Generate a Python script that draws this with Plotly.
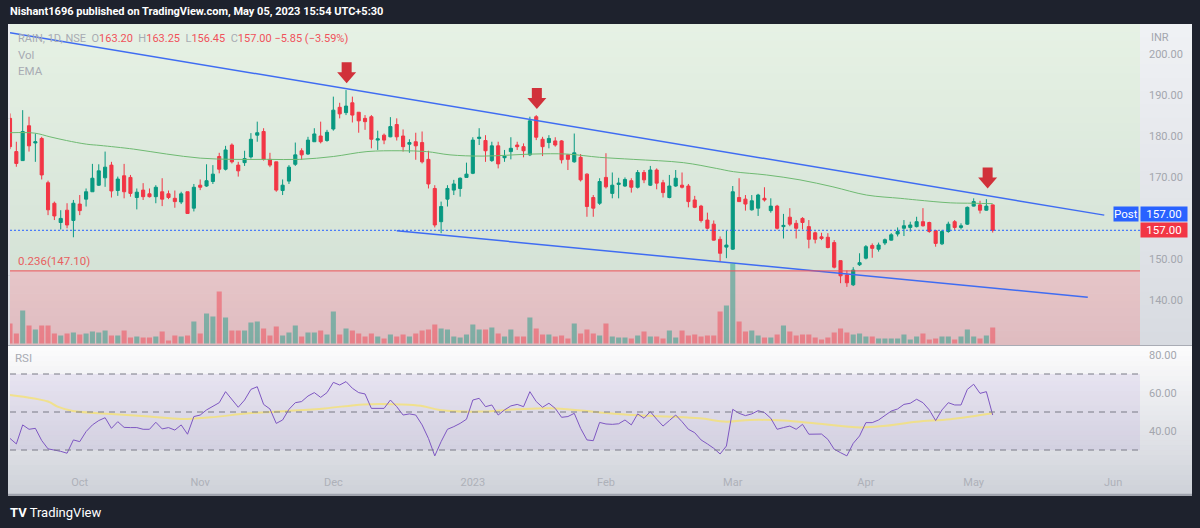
import plotly.graph_objects as go

W, H = 1200, 528

# ---------------- data ----------------
TICK_IDX = [11, 30, 51, 73, 94, 114, 135, 152, 174]
TICK_TXT = ["Oct", "Nov", "Dec", "2023", "Feb", "Mar", "Apr", "May", "Jun"]

OPEN = [184.3, 176.2, 174.0, 182.5, 178.3, 179.4, 168.6, 163.6, 158.9, 161.9,
        159.4, 163.4, 164.6, 166.4, 168.0, 169.8, 172.9, 166.7, 170.3, 169.9,
        165.0, 166.8, 165.9, 165.2, 166.4, 165.9, 164.8, 163.9, 166.4, 162.4,
        168.0, 167.8, 168.9, 175.0, 171.9, 177.8, 172.9, 173.5, 174.9, 180.2,
        181.1, 174.3, 173.7, 166.7, 169.0, 173.1, 176.4, 175.6, 178.6, 180.0,
        178.9, 181.7, 187.0, 185.7, 188.1, 185.8, 184.3, 184.7, 179.0, 180.2,
        179.8, 182.8, 180.0, 178.0, 178.6, 178.4, 174.3, 167.2, 159.1, 164.6,
        166.8, 167.2, 169.9, 170.9, 179.4, 178.9, 174.0, 177.6, 174.7, 176.2,
        177.8, 177.4, 175.4, 184.7, 179.2, 178.4, 178.8, 178.8, 175.4, 173.7,
        174.8, 170.7, 165.0, 163.6, 169.9, 166.0, 168.2, 167.8, 169.1, 167.5,
        171.1, 168.0, 171.7, 168.6, 165.0, 167.8, 168.0, 167.8, 164.4, 162.9,
        159.5, 158.5, 154.8, 152.9, 152.4, 165.0, 164.6, 162.0, 162.4, 164.8,
        161.8, 162.9, 157.9, 160.2, 158.7, 159.9, 157.9, 156.4, 155.4, 155.3,
        154.0, 149.6, 146.1, 143.7, 148.6, 150.2, 153.3, 152.4, 153.9, 154.6,
        156.1, 157.5, 157.7, 157.9, 159.1, 158.9, 156.9, 153.7, 156.7, 159.1,
        157.7, 158.5, 162.9, 163.2, 161.9, 163.20]
HIGH = [185.5, 178.6, 186.3, 184.7, 180.6, 179.8, 169.1, 164.0, 161.9, 163.6,
        164.4, 165.6, 167.2, 173.2, 173.1, 176.2, 173.7, 170.1, 173.2, 170.5,
        167.2, 168.5, 167.2, 168.0, 169.7, 166.7, 166.7, 166.4, 166.4, 168.3,
        169.4, 173.1, 172.9, 175.9, 177.6, 178.2, 173.7, 176.4, 180.7, 183.5,
        181.9, 175.9, 173.7, 169.4, 172.9, 178.4, 177.0, 179.8, 181.9, 183.5,
        181.5, 189.6, 188.1, 191.2, 189.6, 185.8, 185.1, 185.1, 181.3, 180.6,
        184.6, 184.3, 181.6, 179.2, 180.8, 181.1, 176.4, 168.0, 164.0, 168.0,
        169.3, 169.9, 173.5, 179.7, 181.9, 180.2, 178.6, 178.6, 176.6, 179.7,
        178.6, 178.2, 184.7, 185.1, 179.8, 180.2, 179.7, 179.0, 175.4, 180.6,
        175.6, 170.9, 165.6, 169.7, 175.8, 171.1, 169.8, 169.9, 169.7, 171.7,
        171.7, 172.7, 172.1, 169.3, 170.5, 171.7, 171.1, 168.3, 165.4, 163.2,
        161.3, 159.4, 155.5, 156.9, 167.8, 169.7, 165.6, 165.6, 165.9, 167.5,
        164.8, 163.2, 161.0, 162.4, 159.5, 160.2, 159.5, 156.7, 156.4, 156.3,
        154.6, 149.6, 147.2, 148.0, 151.4, 153.4, 153.8, 154.0, 155.0, 156.3,
        157.7, 159.5, 159.1, 160.3, 162.4, 159.1, 157.1, 157.1, 159.1, 159.5,
        158.7, 162.8, 164.8, 164.2, 164.6, 163.25]
LOW = [176.8, 172.5, 173.9, 176.2, 173.7, 169.4, 160.7, 159.5, 157.2, 157.5,
       155.3, 160.7, 162.8, 166.4, 167.8, 167.6, 165.0, 165.4, 164.8, 165.2,
       162.1, 164.4, 165.0, 163.6, 162.9, 164.6, 162.5, 163.4, 161.0, 161.6,
       166.8, 167.6, 168.3, 170.9, 171.6, 173.3, 170.1, 172.7, 174.5, 178.6,
       174.0, 172.4, 166.4, 165.6, 168.3, 172.7, 174.2, 175.4, 178.6, 178.2,
       178.6, 181.3, 184.3, 185.1, 183.3, 180.8, 181.5, 177.0, 176.6, 178.0,
       179.7, 178.9, 176.2, 175.9, 174.2, 173.3, 167.2, 157.7, 156.3, 162.8,
       165.6, 165.2, 169.9, 170.7, 177.8, 173.7, 173.7, 172.1, 173.7, 174.3,
       176.6, 174.8, 175.1, 179.0, 175.1, 177.0, 177.4, 173.3, 171.7, 173.5,
       168.9, 160.3, 160.3, 163.2, 167.2, 164.8, 164.8, 167.6, 166.2, 167.2,
       168.5, 167.8, 167.0, 165.0, 164.8, 167.6, 167.2, 162.6, 162.4, 158.9,
       157.2, 154.5, 149.4, 150.2, 152.2, 164.0, 161.8, 161.8, 160.5, 164.0,
       161.3, 157.2, 155.0, 158.0, 155.0, 157.2, 152.6, 153.8, 154.6, 152.6,
       147.7, 144.1, 143.2, 143.4, 148.3, 149.9, 150.3, 151.8, 153.4, 154.5,
       155.5, 155.6, 156.7, 157.7, 157.9, 156.4, 153.0, 153.4, 156.4, 157.1,
       157.2, 158.3, 162.8, 161.1, 161.8, 156.45]
CLOSE = [177.4, 173.3, 181.1, 177.6, 178.6, 170.5, 162.0, 160.5, 159.9, 158.3,
         163.6, 161.8, 166.4, 169.7, 171.5, 172.4, 166.6, 169.5, 166.4, 166.0,
         166.3, 165.2, 165.2, 167.5, 164.6, 165.0, 164.0, 165.9, 161.1, 167.5,
         167.5, 169.1, 170.7, 171.9, 176.6, 173.7, 171.5, 174.5, 179.2, 180.8,
         174.3, 172.9, 166.8, 168.0, 172.4, 175.4, 175.4, 179.0, 180.5, 178.6,
         180.9, 186.3, 185.4, 187.3, 185.1, 183.7, 183.5, 179.2, 179.3, 179.0,
         182.3, 179.8, 177.4, 178.4, 177.6, 173.7, 168.3, 158.3, 162.8, 167.2,
         168.3, 169.7, 170.7, 179.0, 179.7, 176.4, 177.6, 173.2, 175.1, 177.0,
         177.4, 176.4, 183.7, 179.7, 177.4, 179.4, 177.8, 174.2, 174.3, 175.9,
         169.3, 162.8, 162.4, 168.9, 167.6, 168.0, 168.5, 169.4, 167.5, 171.1,
         169.3, 171.7, 168.5, 166.2, 167.8, 169.7, 167.5, 164.0, 162.6, 159.4,
         157.5, 154.6, 151.4, 153.4, 166.4, 164.0, 163.4, 164.2, 165.6, 164.4,
         162.9, 157.5, 158.2, 158.5, 157.5, 158.9, 154.8, 154.8, 155.0, 152.8,
         148.0, 145.9, 144.2, 147.3, 149.1, 153.0, 152.6, 153.4, 154.7, 155.9,
         156.7, 158.1, 158.3, 159.1, 158.1, 156.7, 153.8, 156.7, 158.5, 157.7,
         158.1, 162.6, 164.0, 161.9, 162.9, 157.00]
VOLUME = [2.0, 1.0, 3.3, 1.8, 1.4, 1.8, 1.8, 1.0, 0.8, 1.0,
          1.1, 0.9, 1.0, 1.2, 1.1, 1.3, 0.8, 0.8, 1.3, 0.6,
          0.7, 0.6, 0.6, 0.7, 1.2, 0.3, 0.8, 0.7, 0.8, 2.2,
          1.0, 3.0, 2.7, 5.2, 2.6, 1.3, 1.3, 1.3, 2.1, 2.2,
          1.5, 0.8, 1.7, 0.8, 1.1, 1.8, 0.7, 1.1, 1.1, 1.3,
          0.9, 3.2, 0.9, 1.5, 1.3, 1.0, 0.7, 1.0, 0.7, 0.5,
          0.9, 0.7, 0.9, 0.7, 1.0, 1.3, 1.4, 1.9, 1.5, 1.4,
          0.7, 0.6, 0.9, 1.9, 1.4, 1.4, 1.6, 1.0, 0.7, 1.4,
          0.7, 0.7, 2.6, 1.5, 0.9, 0.9, 0.7, 0.8, 0.5, 2.0,
          1.0, 1.4, 1.0, 0.8, 2.0, 0.7, 0.6, 0.6, 0.5, 0.8,
          1.2, 0.7, 0.7, 0.5, 1.3, 0.6, 1.3, 0.8, 0.9, 0.7,
          0.8, 0.8, 3.2, 3.8, 8.0, 2.2, 1.2, 1.3, 0.8, 0.6,
          0.6, 0.9, 1.8, 1.2, 0.8, 0.9, 0.9, 0.6, 0.4, 0.6,
          1.1, 1.5, 1.1, 0.9, 1.0, 0.7, 0.7, 0.5, 0.5, 0.5,
          0.5, 0.9, 0.4, 0.7, 1.0, 0.4, 0.5, 0.7, 0.7, 0.4,
          0.7, 1.4, 0.7, 0.5, 0.8, 1.6]
RSI = [36.1, 33.2, 43.2, 40.9, 41.4, 35.0, 30.6, 30.0, 29.3, 28.3,
       35.3, 34.4, 39.7, 43.2, 45.5, 47.0, 41.4, 44.9, 41.9, 41.8,
       41.8, 40.9, 40.9, 44.6, 41.1, 41.8, 40.5, 43.2, 38.3, 47.6,
       48.4, 51.1, 53.2, 54.9, 60.7, 56.3, 52.5, 56.3, 61.9, 63.3,
       54.0, 51.6, 44.0, 45.8, 51.4, 54.9, 55.5, 58.4, 60.2, 57.7,
       60.2, 65.6, 64.2, 66.0, 62.5, 60.2, 59.5, 51.9, 51.9, 51.9,
       56.3, 52.8, 48.4, 49.0, 48.4, 43.2, 36.1, 26.9, 34.4, 40.9,
       42.3, 44.0, 46.2, 56.3, 57.2, 52.8, 53.7, 48.4, 51.1, 53.2,
       54.0, 52.8, 60.7, 55.5, 52.5, 54.6, 51.9, 47.2, 47.6, 49.3,
       41.4, 35.3, 34.9, 44.5, 43.7, 43.5, 43.8, 45.8, 43.2, 49.0,
       46.7, 50.2, 46.2, 42.6, 45.5, 48.4, 44.9, 40.9, 39.1, 35.3,
       33.2, 30.9, 27.9, 32.1, 51.4, 49.3, 48.1, 49.0, 50.7, 49.7,
       46.7, 40.9, 41.8, 42.6, 40.9, 43.5, 38.3, 38.4, 38.4, 35.6,
       30.4, 28.6, 26.9, 33.5, 37.4, 44.4, 44.4, 45.8, 48.4, 50.5,
       51.6, 54.0, 54.6, 56.7, 54.9, 51.1, 45.5, 51.1, 54.9, 53.7,
       53.7, 61.9, 64.6, 59.8, 60.7, 48.4]
EMA_X = [0, 3.9, 6.3, 8.9, 12.1, 14.2, 19.5, 24.7, 30, 35.2, 40.5, 45.7, 51,
         56.3, 61.5, 65.7, 69.4, 74.6, 82.5, 87.8, 93, 98.3, 106.2, 111.4,
         114.1, 119.3, 124.6, 129.8, 135.1, 140.4, 143, 148.3, 151.9, 155]
EMA_Y = [180.8, 180.7, 179.8, 178.9, 178.0, 177.7, 176.8, 175.6, 174.6, 174.3,
         174.3, 174.3, 175.0, 176.2, 176.4, 176.2, 175.4, 175.1, 175.6, 175.6,
         174.8, 174.3, 173.5, 172.1, 171.3, 170.5, 169.3, 167.6, 165.6, 164.8,
         164.4, 163.7, 163.6, 163.5]
RSIMA_X = [0, 6.0, 7.5, 9.9, 16, 22, 27, 31.6, 37.7, 43.7, 49.7, 55.8, 61.8,
           64.8, 67.8, 73.9, 79.9, 86, 93, 98.3, 103.6, 108.8, 113, 116.7, 122,
           127.2, 134.1, 137.7, 143, 148.3, 155]
RSIMA_Y = [59.0, 55.5, 52.8, 50.5, 49.0, 47.6, 46.3, 47.2, 49.3, 50.5, 51.9,
           54.0, 54.0, 53.3, 51.1, 50.2, 51.4, 51.9, 49.8, 48.4, 47.6, 46.7,
           44.9, 45.8, 45.5, 44.0, 41.9, 42.6, 44.9, 46.2, 49.3]
UPPER_X, UPPER_Y = [0, 172.6], [205.2, 160.7]
LOWER_X, LOWER_Y = [61, 170], [156.9, 140.7]
FIB_LEVEL = 147.10
LAST_PRICE = 157.00
ARROW_X = [53.1, 83.1, 154.2]
ARROW_Y = [192.85, 186.6, 167.2]
# 160.00 is hidden behind the price labels in the reference
PRICE_TICKS = [140, 150, 170, 180, 190, 200]
RSI_TICKS = [40, 60, 80]
RSI_BANDS = [30, 50, 70]

# ---------------- layout geometry ----------------
PL, PR = 10, 1140          # plot area x (px)
MT, MB = 24, 345           # main pane y (px)
RT, RB = 346, 465          # rsi pane y (px)
FB = 495                   # frame bottom
BAR_PX = 6.34


def fx(px):
    return px / W


def fy(py):
    return 1 - py / H


P_TOP = 200 + (54 - MT) / 4.1
P_BOT = 200 - (MB - 54) / 4.1
R_TOP = 80 + (355 - RT) * 20 / 38
R_BOT = 80 - (RB - 355) * 20 / 38
X_MAX = (PR - PL) / BAR_PX

UP, DN = "#089981", "#f23645"
FONT = "Roboto"

fig = go.Figure()
shapes = []


def hexrgb(c):
    c = c.lstrip("#")
    return tuple(int(c[i:i + 2], 16) for i in (0, 2, 4))


def grad(x0, x1, y0, y1, c0, c1, n=24):
    a, b = hexrgb(c0), hexrgb(c1)
    step = (y1 - y0) / n
    for i in range(n):
        t = i / (n - 1)
        col = "rgb(%d,%d,%d)" % tuple(round(a[k] + (b[k] - a[k]) * t) for k in range(3))
        shapes.append(dict(type="rect", xref="paper", yref="paper", layer="below",
                           x0=fx(x0), x1=fx(x1), y0=fy(y0 + i * step), y1=fy(y0 + (i + 1) * step + 0.6),
                           line=dict(width=0), fillcolor=col))


# backgrounds
grad(8, 1192, MT, FB, "#eceef2", "#cfd2d9", 30)
grad(PL, PR, MT, 271, "#e6f1e4", "#d5e3d7", 30)
grad(PL, PR, 271, MB, "#e6c5c8", "#dfbcc0", 10)
grad(PR, 1192, MT, MB, "#eff1f4", "#d8dbe1", 24)
grad(8, 1192, RT, RB, "#fbfbfc", "#d9dbe1", 24)
grad(8, 1192, RB, FB, "#d6d9df", "#cfd2d9", 6)

# rsi band fill
shapes.append(dict(type="rect", xref="paper", yref="y3", layer="below",
                   x0=fx(PL), x1=fx(PR), y0=RSI_BANDS[0], y1=RSI_BANDS[2],
                   line=dict(width=0), fillcolor="rgba(126,87,194,0.10)"))
for b in RSI_BANDS:
    shapes.append(dict(type="line", xref="paper", yref="y3", layer="above",
                       x0=fx(PL), x1=fx(PR), y0=b, y1=b,
                       line=dict(color="#787b86", width=1, dash="6px,5px")))
# pane separator and frame bottom line
shapes.append(dict(type="line", xref="paper", yref="paper", x0=fx(8), x1=fx(1192),
                   y0=fy(345.5), y1=fy(345.5), line=dict(color="#a9acb5", width=1)))
shapes.append(dict(type="line", xref="paper", yref="paper", x0=fx(8), x1=fx(1192),
                   y0=fy(494.5), y1=fy(494.5), line=dict(color="#9ea2ad", width=1.5)))
# fib level line and last price dotted line
shapes.append(dict(type="line", xref="paper", yref="y", x0=fx(PL), x1=fx(PR),
                   y0=FIB_LEVEL, y1=FIB_LEVEL, line=dict(color="#ee4f55", width=1)))
shapes.append(dict(type="line", xref="paper", yref="y", x0=fx(PL), x1=fx(PR),
                   y0=LAST_PRICE, y1=LAST_PRICE, line=dict(color="#2962ff", width=1, dash="2px,2px")))
# arrows (pixel-sized path anchored on data points)
for ax_, ay_ in zip(ARROW_X, ARROW_Y):
    shapes.append(dict(type="path", xref="x", yref="y", xsizemode="pixel", ysizemode="pixel",
                       xanchor=ax_, yanchor=ay_,
                       path="M 0,0 L 9.5,11 L 5,11 L 5,21 L -5,21 L -5,11 L -9.5,11 Z",
                       fillcolor="#d1313a", line=dict(width=0)))

idx = list(range(len(CLOSE)))
vcol = ["rgba(8,153,129,0.45)" if c >= o else "rgba(242,54,69,0.45)" for o, c in zip(OPEN, CLOSE)]

fig.add_trace(go.Bar(x=idx, y=VOLUME, marker=dict(color=vcol, line=dict(width=0)), width=0.8,
                     yaxis="y2", xaxis="x", hoverinfo="skip"))
fig.add_trace(go.Scatter(x=EMA_X, y=EMA_Y, mode="lines", line=dict(color="#6fba72", width=1, shape="spline"),
                         yaxis="y", xaxis="x", hoverinfo="skip"))
fig.add_trace(go.Candlestick(x=idx, open=OPEN, high=HIGH, low=LOW, close=CLOSE,
                             increasing=dict(line=dict(color=UP, width=1), fillcolor=UP),
                             decreasing=dict(line=dict(color=DN, width=1), fillcolor=DN),
                             whiskerwidth=0, yaxis="y", xaxis="x", hoverinfo="skip"))
fig.add_trace(go.Scatter(x=UPPER_X, y=UPPER_Y, mode="lines", line=dict(color="#3f6cf2", width=1.5),
                         yaxis="y", xaxis="x", hoverinfo="skip"))
fig.add_trace(go.Scatter(x=LOWER_X, y=LOWER_Y, mode="lines", line=dict(color="#3f6cf2", width=1.5),
                         yaxis="y", xaxis="x", hoverinfo="skip"))
fig.add_trace(go.Scatter(x=RSIMA_X, y=RSIMA_Y, mode="lines",
                         line=dict(color="rgba(246,226,110,0.75)", width=2, shape="spline"),
                         yaxis="y3", xaxis="x", hoverinfo="skip"))
fig.add_trace(go.Scatter(x=idx, y=RSI, mode="lines", line=dict(color="#7e57c2", width=1),
                         yaxis="y3", xaxis="x", hoverinfo="skip"))

ann = []


def text(x, y, s, size=12, color="#a3a6ae", xanchor="left", **kw):
    ann.append(dict(xref="paper", yref="paper", x=fx(x), y=fy(y), text=s, showarrow=False,
                    xanchor=xanchor, yanchor="middle", font=dict(family=FONT, size=size, color=color), **kw))


text(8, 12, "<b>Nishant1696 published on TradingView.com, May 05, 2023 15:54 UTC+5:30</b>", 11, "#ffffff")
g, r = "#a8abb3", "#f0525b"
hdr = ("<span style='color:%s'>RAIN, 1D, NSE&nbsp; O</span><span style='color:%s'>163.20</span>"
       "<span style='color:%s'>&nbsp; H</span><span style='color:%s'>163.25</span>"
       "<span style='color:%s'>&nbsp; L</span><span style='color:%s'>156.45</span>"
       "<span style='color:%s'>&nbsp; C</span><span style='color:%s'>157.00 −5.85 (−3.59%%)</span>"
       % (g, r, g, r, g, r, g, r))
text(16, 39, hdr, 11)
text(16, 55, "Vol", 11.5, g)
text(16, 71, "EMA", 11.5, g)
text(16, 261, "0.236(147.10)", 11.5, "#e8605f")
text(13, 358, "RSI", 11.5, g)
text(1149, 37, "INR", 11, "#a3a6ae")
text(8, 512, "<b>TV</b> TradingView", 13, "#ffffff")

# price labels
ann.append(dict(xref="paper", yref="y", x=fx(1139), y=LAST_PRICE, yshift=16.5, text="Post", showarrow=False,
                xanchor="right", yanchor="middle", bgcolor="#2962ff", borderpad=0, height=14,
                font=dict(family=FONT, size=11.5, color="#ffffff")))
ann.append(dict(xref="paper", yref="y", x=fx(1140), y=LAST_PRICE, yshift=16.5, text="157.00", showarrow=False,
                xanchor="left", yanchor="middle", bgcolor="#2962ff", borderpad=0, width=46, height=14,
                font=dict(family=FONT, size=11.5, color="#ffffff")))
ann.append(dict(xref="paper", yref="y", x=fx(1140), y=LAST_PRICE, text="157.00", showarrow=False,
                xanchor="left", yanchor="middle", bgcolor="#f23645", borderpad=0, width=46, height=14,
                font=dict(family=FONT, size=11.5, color="#ffffff")))

fig.update_layout(
    width=W, height=H, autosize=False,
    margin=dict(l=0, r=0, t=0, b=0, pad=0),
    paper_bgcolor="#1e222d", plot_bgcolor="rgba(0,0,0,0)",
    showlegend=False, shapes=shapes, annotations=ann, boxgap=0.3,
    font=dict(family=FONT),
    xaxis=dict(domain=[fx(PL), fx(PR)], range=[0, X_MAX], anchor="y3",
               tickvals=TICK_IDX, ticktext=TICK_TXT, showgrid=False, zeroline=False, showline=False,
               ticks="", tickfont=dict(size=11, color="#aeb1b9"), ticklabelstandoff=9,
               rangeslider=dict(visible=False), fixedrange=True),
    yaxis=dict(domain=[fy(MB), fy(MT)], range=[P_BOT, P_TOP], side="right", anchor="x",
               tickvals=PRICE_TICKS, ticktext=["%.2f" % v for v in PRICE_TICKS],
               showgrid=False, zeroline=False, showline=False, ticks="",
               tickfont=dict(size=11, color="#a3a6ae"), ticklabelstandoff=8),
    yaxis2=dict(overlaying="y", range=[-0.15, 31.95], visible=False),
    yaxis3=dict(domain=[fy(RB), fy(RT)], range=[R_BOT, R_TOP], side="right", anchor="x",
                tickvals=RSI_TICKS, ticktext=["%.2f" % v for v in RSI_TICKS],
                showgrid=False, zeroline=False, showline=False, ticks="",
                tickfont=dict(size=11, color="#a3a6ae"), ticklabelstandoff=8),
)

fig.write_html("out.html", config={"displayModeBar": False})
